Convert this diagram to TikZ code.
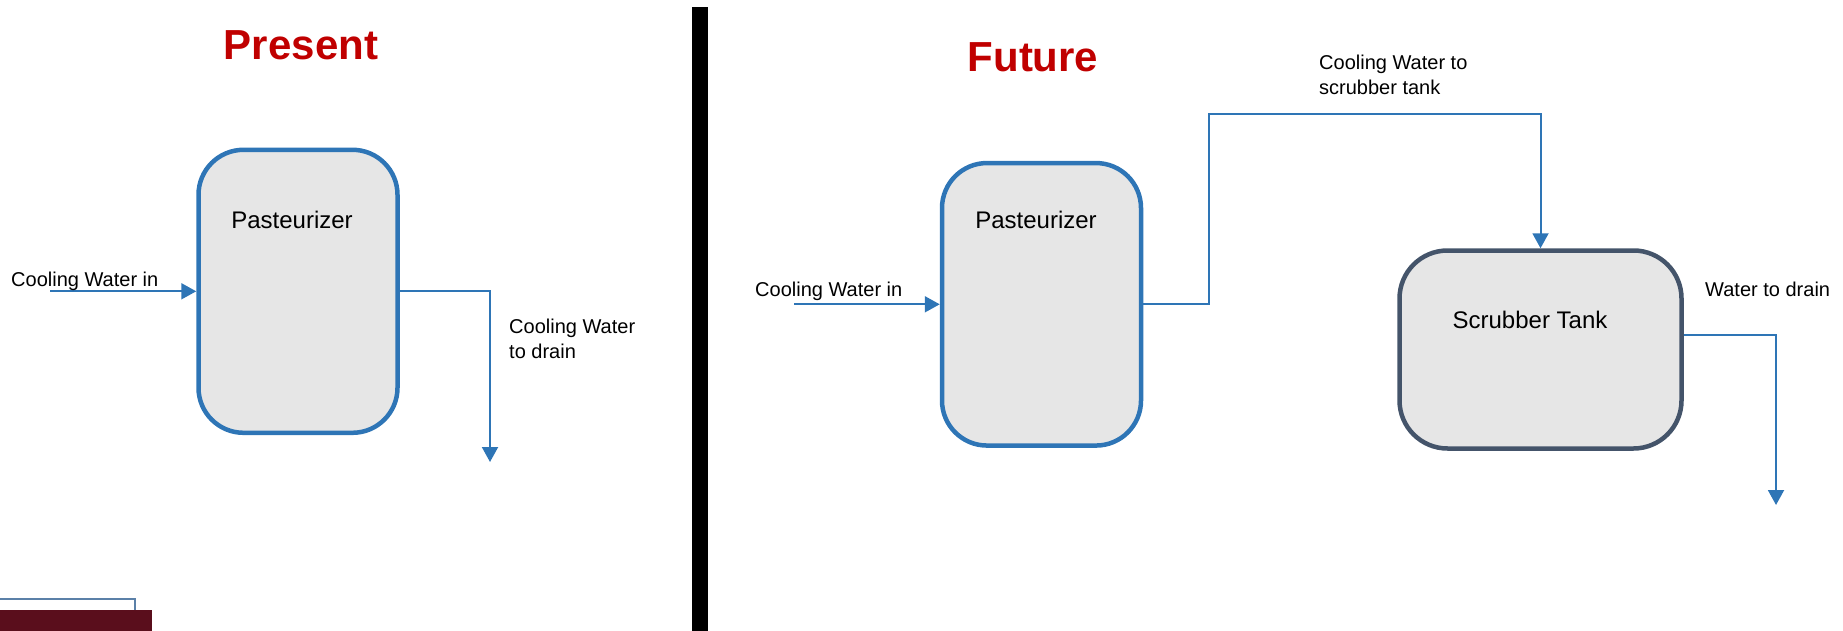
\documentclass[tikz,border=0pt]{standalone}
\usepackage{fontspec}
\setmainfont{Liberation Sans}
\usetikzlibrary{arrows.meta}
\definecolor{flowblue}{HTML}{2E75B6}
\definecolor{boxfill}{HTML}{E6E6E6}
\definecolor{slate}{HTML}{44546A}
\definecolor{titlered}{HTML}{C00000}
\definecolor{darkred}{HTML}{5A0E1C}
\definecolor{paleblue}{HTML}{5B80A8}
\begin{document}
\begin{tikzpicture}[x=1pt,y=-1pt,
  vessel/.style={draw=flowblue, line width=4.5pt, fill=boxfill, rounded corners=45pt, inner sep=0pt},
  tankbox/.style={draw=slate, line width=4.5pt, fill=boxfill, rounded corners=48pt, inner sep=0pt},
  flow/.style={draw=flowblue, line width=2pt, -{Triangle[length=15pt,width=16pt]}},
  lbl/.style={inner sep=0pt, font=\fontsize{20}{25}\selectfont, align=left},
  boxlbl/.style={inner sep=0pt, font=\fontsize{24}{28}\selectfont, anchor=base},
  title/.style={inner sep=0pt, font=\fontsize{42}{48}\selectfont\bfseries, text=titlered, anchor=base}
]
\useasboundingbox (0,0) rectangle (1843,631);
% divider bar
\fill[black] (692,7) rectangle (708,631);
% bottom-left remnants
\draw[paleblue, line width=2.7pt] (0,599) -- (135,599) -- (135,610);
\fill[darkred] (0,610) rectangle (152,631);

% titles
\node[title] (tpresent) at (301,60) {Present};
\node[title] (tfuture) at (1033,72) {Future};

% ---------- Present ----------
\node[vessel, minimum width=199pt, minimum height=283pt] (p1) at (298,291.3) {};
\node[boxlbl] (p1lbl) at (292,228.6) {Pasteurizer};
\coordinate (p1in) at (50,291.3);
\coordinate (p1bend) at (490,291.3);
\coordinate (p1out) at (490,462);
\draw[flow] (p1in) -- (p1.west);
\draw[flow] (p1.east) -- (p1bend) -- (p1out);
\node[lbl, anchor=base west] (p1inlbl) at (11,286) {Cooling Water in};
% base anchor of a two-line node sits on its last line
\node[lbl, anchor=base west] (p1outlbl) at (509,358) {Cooling Water\\to drain};

% ---------- Future ----------
\node[vessel, minimum width=199pt, minimum height=282.5pt] (p2) at (1041.5,304.3) {};
\node[boxlbl] (p2lbl) at (1036,228.6) {Pasteurizer};
\node[tankbox, minimum width=282pt, minimum height=198pt] (sc) at (1540.5,349.5) {};
\node[boxlbl] (sclbl) at (1530,328) {Scrubber Tank};

\coordinate (p2in) at (794,304.3);
\draw[flow] (p2in) -- (p2.west);
\coordinate (b1) at (1209,304.3);
\coordinate (b2) at (1209,114);
\coordinate (b3) at (1540.5,114);
\draw[flow] (p2.east) -- (b1) -- (b2) -- (b3) -- (sc.north);
\coordinate (d1) at (1776,335);
\coordinate (d2) at (1776,505);
\draw[flow] ([yshift=14.5pt]sc.east) -- (d1) -- (d2);

\node[lbl, anchor=base west] (p2inlbl) at (755,296) {Cooling Water in};
\node[lbl, anchor=base west] (toscrub) at (1319,94.6) {Cooling Water to\\scrubber tank};
\node[lbl, anchor=base west] (drain) at (1705,296) {Water to drain};
\end{tikzpicture}
\end{document}
